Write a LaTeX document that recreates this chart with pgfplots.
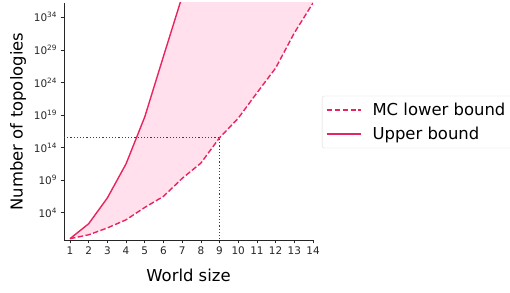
\documentclass[border=0pt]{standalone}
\usepackage{pgfplots}
\pgfplotsset{compat=1.18}
\usepgfplotslibrary{fillbetween}
\usepackage{fontspec}
\setmainfont{DejaVu Sans}
\definecolor{lc}{HTML}{E8245F}
\definecolor{fc}{HTML}{FFE0EC}
\definecolor{tc}{HTML}{262626}
\begin{document}
\begin{tikzpicture}
\begin{axis}[
  at={(64bp,53bp)}, anchor=south west,
  scale only axis, width=249bp, height=237bp,
  ymode=log,
  xmin=0.68, xmax=14,
  ymin=0.63, ymax=1.58e36,
  axis lines=left,
  axis line style={-, tc, line width=0.6pt},
  xtick={1,...,14},
  ytick={1e4,1e9,1e14,1e19,1e24,1e29,1e34},
  yticklabels={10\textsuperscript{4},10\textsuperscript{9},10\textsuperscript{14},10\textsuperscript{19},10\textsuperscript{24},10\textsuperscript{29},10\textsuperscript{34}},
  yminorticks=false,
  tick align=outside,
  tick style={tc, line width=0.6pt},
  major tick length=3.5bp,
  tick label style={font=\fontsize{10.5}{12}\selectfont, text=tc},
  /pgf/number format/assume math mode=true,
  xlabel={World size},
  ylabel={Number of topologies},
  label style={font=\fontsize{16.5}{19}\selectfont, text=black},
  xlabel style={yshift=-7bp},
  ylabel style={yshift=1bp},
  clip=true,
  legend style={at={(1.036,0.498)}, anchor=west, draw=black!15, rounded corners=2pt,
    font=\fontsize{16.5}{19}\selectfont, row sep=4bp, inner sep=4bp,
    column sep=8bp,
    legend cell align=left,
    nodes={inner sep=3bp}},
  legend image code/.code={\draw[#1] (0bp,0bp) -- (34bp,0bp);},
]
\addlegendimage{lc, line width=1.4pt, dash pattern=on 5.5bp off 2.4bp}
\addlegendentry{MC lower bound}
\addlegendimage{lc, line width=1.4pt}
\addlegendentry{Upper bound}
\addplot[name path=lower, lc, line width=1.4pt, dash pattern=on 5.5bp off 2.4bp, forget plot] coordinates {
(1,1) (2,3.98) (3,44.7) (4,794) (5,6.31e4) (6,3.16e6) (7,1.82e9) (8,3.98e11) (9,3.16e15) (10,3.16e18) (11,2.51e22) (12,1.58e26) (13,3.98e31) (14,1.58e36)
};
\addplot[name path=upper, lc, line width=1.4pt, forget plot] coordinates {
(1,1) (2,200) (3,1.82e6) (4,3.16e11) (5,5.01e18) (6,1e28) (7,1.58e37) (8,1e39) (9,1e40) (10,1e41) (11,1e42) (12,1e43) (13,1e44) (14,1e45)
};
\addplot[fc, forget plot] fill between[of=upper and lower];
\addplot[black!75, line width=1.1pt, dash pattern=on 1.1bp off 2.1bp, forget plot] coordinates {(0.68,3.16e15) (9,3.16e15) (9,0.63)};
\end{axis}
\pgfresetboundingbox
\path[use as bounding box] (0,0) rectangle (510bp,293bp);
\end{tikzpicture}
\end{document}
